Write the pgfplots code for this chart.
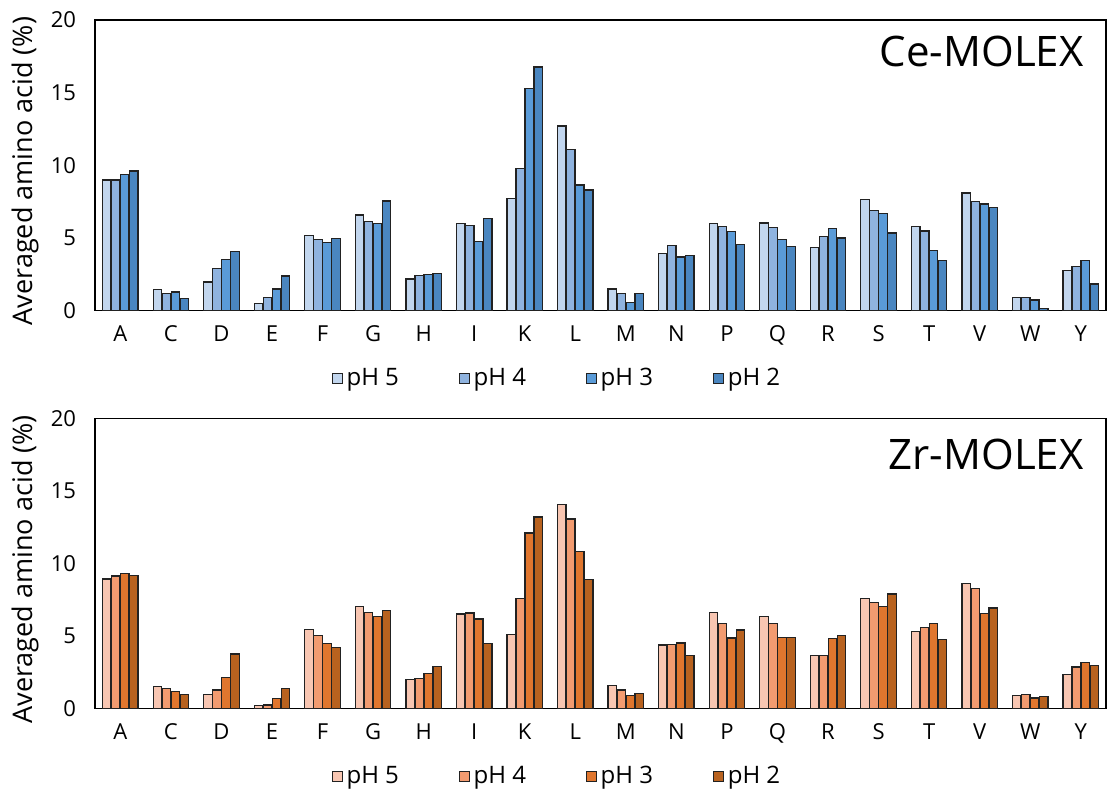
\documentclass[border=0pt]{standalone}
\usepackage{pgfplots}
\pgfplotsset{compat=1.18}
\usepackage{pgfplotstable}
\usepackage{fontspec}
\setmainfont{Open Sans}
\definecolor{bA}{HTML}{C2D6EE}
\definecolor{bB}{HTML}{8FB3DF}
\definecolor{bC}{HTML}{5A9BD8}
\definecolor{bD}{HTML}{4A86C0}
\definecolor{oA}{HTML}{F8C6B2}
\definecolor{oB}{HTML}{F29B70}
\definecolor{oC}{HTML}{E0762E}
\definecolor{oD}{HTML}{B8621F}
\definecolor{edge}{HTML}{222222}

\pgfplotstableread{
x p5 p4 p3 p2
0 8.97 8.97 9.36 9.59
1 1.43 1.15 1.26 0.80
2 1.95 2.87 3.52 4.07
3 0.46 0.87 1.47 2.37
4 5.13 4.87 4.67 4.97
5 6.57 6.14 5.98 7.54
6 2.16 2.41 2.46 2.53
7 5.98 5.86 4.74 6.32
8 7.68 9.79 15.26 16.76
9 12.69 11.08 8.64 8.28
10 1.47 1.15 0.55 1.15
11 3.89 4.48 3.68 3.77
12 5.98 5.77 5.43 4.53
13 6.02 5.68 4.87 4.41
14 4.32 5.08 5.63 4.99
15 7.63 6.87 6.67 5.33
16 5.77 5.47 4.14 3.43
17 8.09 7.49 7.33 7.08
18 0.87 0.87 0.71 0.14
19 2.74 3.03 3.43 1.82
}\cedata

\pgfplotstableread{
x p5 p4 p3 p2
0 8.94 9.15 9.33 9.19
1 1.54 1.41 1.20 0.99
2 0.99 1.29 2.14 3.76
3 0.21 0.25 0.71 1.41
4 5.46 5.05 4.49 4.22
5 7.03 6.64 6.36 6.77
6 2.00 2.10 2.44 2.90
7 6.52 6.59 6.18 4.47
8 5.12 7.58 12.10 13.20
9 14.06 13.06 10.85 8.89
10 1.59 1.29 0.90 1.04
11 4.38 4.42 4.52 3.66
12 6.64 5.88 4.86 5.41
13 6.36 5.88 4.91 4.91
14 3.66 3.66 4.82 5.05
15 7.58 7.33 7.03 7.90
16 5.32 5.58 5.88 4.77
17 8.64 8.27 6.57 6.94
18 0.90 0.99 0.74 0.83
19 2.35 2.86 3.20 2.95
}\zrdata

\pgfplotsset{
  mybars/.style={
    scale only axis,
    width=505pt, height=145pt,
    ybar, bar width=0.168,
    xmin=-0.5, xmax=19.5, ymin=0, ymax=20,
    xtick={0,...,19},
    xticklabels={A,C,D,E,F,G,H,I,K,L,M,N,P,Q,R,S,T,V,W,Y},
    ytick={0,5,10,15,20},
    major tick length=0pt,
    axis line style={line width=0.7pt, black},
    tick label style={font=\fontsize{11}{13}\selectfont},
    /pgf/number format/assume math mode=true,
    xticklabel style={yshift=-4pt},
    yticklabel style={xshift=-6pt},
    ylabel={Averaged amino acid (\%)},
    ylabel style={font=\fontsize{13.5}{15}\selectfont, at={(axis description cs:-0.0693,0.48)}, anchor=center},
    legend columns=4,
    legend style={draw=none, fill=none, at={(axis description cs:0.458,0)}, anchor=center, yshift=-34pt,
      font=\fontsize{12}{14}\selectfont,
      /tikz/every even column/.append style={column sep=28pt}},
    legend image code/.code={\draw[#1, line width=0.5pt] (0pt,-2.4pt) rectangle (4.8pt,2.4pt);},
  },
  barst/.style={draw=edge, line width=0.65pt, fill=#1},
}

\begin{document}
\begin{tikzpicture}
\begin{axis}[mybars, name=top]
\addplot[barst=bA, bar shift=-0.267] table[x=x,y=p5]{\cedata};
\addplot[barst=bB, bar shift=-0.089] table[x=x,y=p4]{\cedata};
\addplot[barst=bC, bar shift=0.089] table[x=x,y=p3]{\cedata};
\addplot[barst=bD, bar shift=0.267] table[x=x,y=p2]{\cedata};
\legend{pH 5,pH 4,pH 3,pH 2}
\node[anchor=north east, font=\fontsize{21}{24}\selectfont, inner sep=0pt] at (rel axis cs:1,1) [xshift=-11pt, yshift=-8pt] {Ce-MOLEX};
\end{axis}
\begin{axis}[mybars, name=bot, at={(top.south west)}, anchor=north west, yshift=-54pt]
\addplot[barst=oA, bar shift=-0.267] table[x=x,y=p5]{\zrdata};
\addplot[barst=oB, bar shift=-0.089] table[x=x,y=p4]{\zrdata};
\addplot[barst=oC, bar shift=0.089] table[x=x,y=p3]{\zrdata};
\addplot[barst=oD, bar shift=0.267] table[x=x,y=p2]{\zrdata};
\legend{pH 5,pH 4,pH 3,pH 2}
\node[anchor=north east, font=\fontsize{21}{24}\selectfont, inner sep=0pt] at (rel axis cs:1,1) [xshift=-11pt, yshift=-10pt] {Zr-MOLEX};
\end{axis}
\path (top.north west) ++(-47.5pt,10pt) coordinate (bbA);
\path (bot.south east) ++(0.5pt,-43pt) coordinate (bbB);
\path (bbA) rectangle (bbB);
\end{tikzpicture}
\end{document}
